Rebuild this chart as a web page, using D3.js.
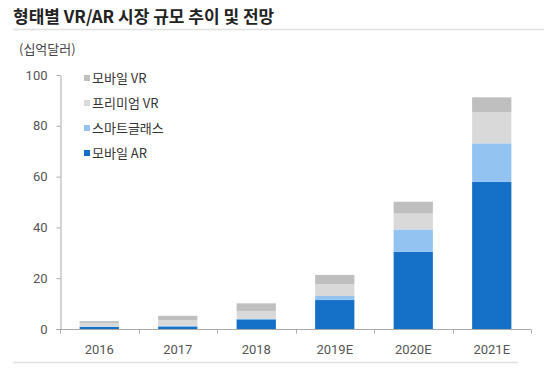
<!DOCTYPE html>
<html>
<head>
<meta charset="utf-8">
<script src="https://cdn.jsdelivr.net/npm/d3@7"></script>
<style>
  body { margin: 0; background: #fff; }
  svg { display: block; font-family: "Noto Sans CJK KR", "Noto Sans", sans-serif; }
</style>
</head>
<body>
<svg class="chart"></svg>
<script>
const width = 544,
  height = 369;

// data (billion USD)
const years = ["2016", "2017", "2018", "2019E", "2020E", "2021E"];
const mobileAR = [0.8, 1.0, 3.8, 11.4, 30.4, 58.0];
const smartGlass = [0.2, 0.3, 0.3, 1.6, 8.8, 15.1];
const premiumVR = [1.4, 2.2, 3.0, 4.6, 6.3, 12.2];
const mobileVR = [0.7, 1.7, 3.0, 3.7, 4.6, 5.9];
const yTicks = [0, 20, 40, 60, 80, 100];

const seriesNames = ["모바일 AR", "스마트글래스", "프리미엄 VR", "모바일 VR"];
const colors = ["#1570c8", "#92c3f1", "#d9d9d9", "#bfbfbf"];

const rows = years.map((y, i) => ({
  year: y,
  "모바일 AR": mobileAR[i],
  "스마트글래스": smartGlass[i],
  "프리미엄 VR": premiumVR[i],
  "모바일 VR": mobileVR[i]
}));

const margin = { top: 75, left: 60, right: 13, bottom: 40 };
const plotH = height - margin.top - margin.bottom;

const chart = d3.select(".chart")
  .attr("width", width)
  .attr("height", height);

// title and rules
chart.append("text")
  .attr("x", 13).attr("y", 23)
  .attr("font-size", 17).attr("font-weight", "bold")
  .attr("fill", "#222")
  .text("형태별 VR/AR 시장 규모 추이 및 전망");
chart.append("line")
  .attr("x1", 13).attr("x2", width).attr("y1", 29.5).attr("y2", 29.5)
  .attr("stroke", "#e0e0e0").attr("stroke-width", 1.5);
chart.append("line")
  .attr("x1", 13).attr("x2", 518).attr("y1", 362.5).attr("y2", 362.5)
  .attr("stroke", "#e0e0e0").attr("stroke-width", 1.5);

chart.append("text")
  .attr("x", 19).attr("y", 54)
  .attr("font-size", 13).attr("fill", "#444")
  .text("(십억달러)");

const x = d3.scaleBand()
  .domain(years)
  .range([margin.left, width - margin.right])
  .paddingInner(0.5)
  .paddingOuter(0.25);

const y = d3.scaleLinear()
  .domain([0, 100])
  .range([margin.top + plotH, margin.top]);

const stack = d3.stack().keys(seriesNames);
const layers = stack(rows);

const g = chart.append("g");
g.selectAll("g")
  .data(layers)
  .enter().append("g")
  .attr("fill", (d, i) => colors[i])
  .selectAll("rect")
  .data(d => d)
  .enter().append("rect")
  .attr("x", d => x(d.data.year))
  .attr("width", x.bandwidth())
  .attr("y", d => y(d[1]))
  .attr("height", d => y(d[0]) - y(d[1]));

// y axis
const yAxis = d3.axisLeft(y)
  .tickValues(yTicks)
  .tickSizeInner(4)
  .tickSizeOuter(0)
  .tickPadding(9);
const ya = chart.append("g")
  .attr("transform", `translate(${margin.left + 0.5},0)`)
  .call(yAxis);
ya.select(".domain").attr("stroke", "#aaa");
ya.selectAll(".tick line").attr("stroke", "#aaa");
ya.selectAll(".tick text")
  .attr("font-size", 13).attr("fill", "#555")
  .attr("font-family", "Roboto, sans-serif");

// x axis with boundary ticks
const xa = chart.append("g")
  .attr("transform", `translate(0,${y(0) + 0.5})`);
xa.append("line")
  .attr("x1", margin.left - 4).attr("x2", width - margin.right)
  .attr("stroke", "#aaa");
const step = x.step();
const bounds = years.map((d, i) => margin.left + i * step).concat([width - margin.right]);
xa.selectAll(".b")
  .data(bounds)
  .enter().append("line")
  .attr("x1", d => Math.round(d) + 0.5).attr("x2", d => Math.round(d) + 0.5)
  .attr("y1", 0).attr("y2", 4)
  .attr("stroke", "#aaa");
xa.selectAll(".lbl")
  .data(years)
  .enter().append("text")
  .attr("x", d => x(d) + x.bandwidth() / 2)
  .attr("y", 24)
  .attr("text-anchor", "middle")
  .attr("font-size", 13).attr("fill", "#555")
  .attr("font-family", "Roboto, sans-serif")
  .text(d => d);

// legend (top item = mobile VR)
const legendItems = seriesNames.map((n, i) => ({ name: n, color: colors[i] })).reverse();
const lg = chart.append("g").attr("transform", "translate(84,78)");
const li = lg.selectAll("g")
  .data(legendItems)
  .enter().append("g")
  .attr("transform", (d, i) => `translate(0,${i * 25})`);
li.append("rect")
  .attr("x", 0).attr("y", -3).attr("width", 6).attr("height", 6)
  .attr("fill", d => d.color);
li.append("text")
  .attr("x", 8).attr("y", 5)
  .attr("font-size", 13).attr("fill", "#333")
  .text(d => d.name);
</script>
</body>
</html>
